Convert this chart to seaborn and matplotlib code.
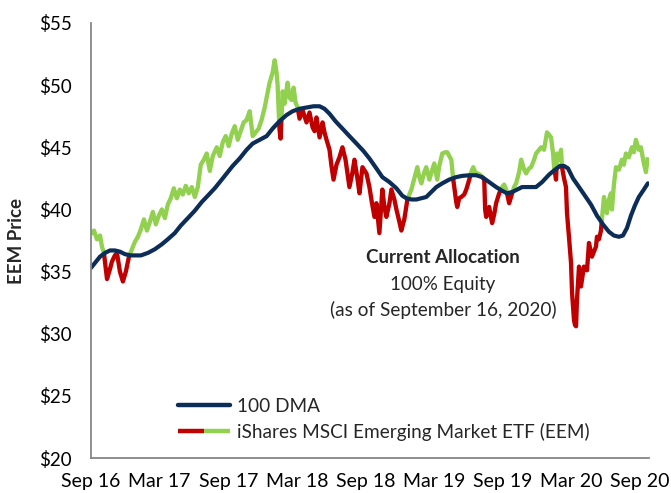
import numpy as np
import pandas as pd
import matplotlib
matplotlib.use("Agg")
import matplotlib.pyplot as plt
import seaborn as sns
from matplotlib.lines import Line2D
from matplotlib.legend_handler import HandlerTuple

sns.set_theme(style="white")
plt.rcParams['font.family'] = ['Lato', 'DejaVu Sans']

# months since Sep 2016
price_months = [0.00, 0.26, 0.52, 0.79, 0.96, 1.13, 1.40, 1.66, 1.83, 2.09, 2.27, 2.53, 2.79, 3.05, 3.32, 3.58,
                3.84, 4.10, 4.36, 4.63, 4.89, 5.15, 5.41, 5.67, 5.93, 6.20, 6.46, 6.72, 6.98, 7.24, 7.51, 7.77,
                8.03, 8.29, 8.55, 8.81, 9.08, 9.34, 9.60, 9.86, 10.12, 10.39, 10.65, 11.00, 11.26, 11.52, 11.78,
                12.04, 12.31, 12.57, 12.83, 13.09, 13.35, 13.61, 13.88, 14.14, 14.40, 14.66, 14.92, 15.19, 15.36,
                15.62, 15.88, 16.06, 16.23, 16.32, 16.41, 16.49, 16.58, 16.76, 16.93, 17.19, 17.37, 17.54, 17.72,
                17.89, 18.07, 18.24, 18.50, 18.85, 19.11, 19.38, 19.55, 19.72, 19.99, 20.25, 20.42, 20.60, 20.86,
                21.03, 21.21, 21.47, 21.73, 21.99, 22.26, 22.60, 22.87, 23.04, 23.30, 23.48, 23.74, 24.09, 24.35,
                24.52, 24.79, 24.96, 25.22, 25.48, 25.66, 25.83, 26.10, 26.27, 26.53, 26.71, 26.97, 27.14, 27.40,
                27.67, 27.84, 28.02, 28.28, 28.54, 28.71, 28.89, 29.15, 29.32, 29.59, 29.85, 30.02, 30.28, 30.46,
                30.72, 30.98, 31.16, 31.33, 31.51, 31.68, 31.77, 31.94, 32.03, 32.20, 32.38, 32.64, 32.82, 33.08,
                33.25, 33.43, 33.60, 33.78, 34.04, 34.21, 34.39, 34.47, 34.56, 34.82, 35.08, 35.26, 35.43, 35.70,
                35.96, 36.13, 36.31, 36.57, 36.83, 37.00, 37.18, 37.44, 37.62, 37.88, 38.05, 38.31, 38.49, 38.75,
                38.92, 39.19, 39.36, 39.62, 39.88, 40.06, 40.23, 40.41, 40.50, 40.67, 40.76, 40.93, 41.11, 41.19,
                41.37, 41.54, 41.63, 41.80, 41.98, 42.07, 42.24, 42.33, 42.42, 42.50, 42.68, 42.85, 43.11, 43.38,
                43.55, 43.81, 44.16, 44.25, 44.42, 44.60, 44.68, 44.86, 45.12, 45.30, 45.47, 45.56, 45.73, 45.91,
                46.17, 46.43, 46.60, 46.78, 47.04, 47.30, 47.48, 47.65, 47.91, 48.09, 48.35, 48.53, 48.70]
price_values = [38.0, 38.3, 37.6, 37.9, 37.0, 36.5, 34.4, 35.2, 35.8, 36.3, 36.5, 35.0, 34.2, 35.0, 36.2, 36.8,
                37.4, 37.8, 38.4, 39.2, 38.3, 39.0, 39.8, 38.8, 39.5, 40.0, 39.3, 40.4, 40.9, 41.7, 40.9, 41.6,
                41.2, 41.9, 41.3, 41.8, 41.0, 41.8, 43.6, 44.0, 44.5, 43.1, 44.3, 45.0, 44.3, 45.4, 45.9,
                45.1, 46.1, 46.7, 45.6, 46.3, 47.0, 47.2, 47.9, 45.9, 46.2, 46.5, 47.2, 48.2, 49.0,
                50.2, 51.0, 52.0, 51.0, 50.0, 48.0, 46.4, 45.7, 49.5, 48.5, 50.2, 49.0, 48.8, 49.8,
                48.6, 48.2, 47.3, 48.0, 47.0, 47.8, 46.6, 46.3, 47.4, 45.8, 47.0, 46.2, 45.6, 44.8,
                43.5, 42.4, 43.6, 44.2, 45.0, 44.0, 41.8, 43.0, 44.0, 42.5, 41.3, 43.4, 42.9, 41.8,
                40.8, 39.4, 40.5, 38.1, 41.6, 40.2, 39.4, 40.5, 41.6, 40.8, 40.0, 39.0, 38.3, 39.2,
                40.8, 41.2, 41.6, 42.5, 43.4, 42.6, 42.1, 43.0, 43.4, 42.4, 43.2, 43.7, 42.4, 43.5,
                44.5, 44.6, 44.6, 44.3, 44.0, 42.4, 41.8, 40.6, 40.2, 40.9, 41.0, 41.2, 41.6, 42.4,
                43.0, 43.4, 43.0, 42.9, 42.8, 42.6, 42.4, 40.0, 39.4, 40.2, 38.9, 39.6, 40.5, 41.3,
                41.8, 42.0, 41.6, 40.5, 41.3, 41.8, 42.1, 43.0, 44.0, 43.2, 42.9, 43.3, 43.4, 44.0,
                44.5, 44.8, 45.0, 44.8, 46.2, 46.0, 45.8, 44.5, 43.4, 42.4, 44.5, 44.0, 44.8, 43.4,
                42.5, 41.8, 39.7, 37.8, 35.7, 33.3, 31.1, 30.7, 30.6, 32.7, 35.4, 33.8, 35.4, 35.1,
                37.3, 36.2, 37.0, 37.8, 37.6, 38.3, 39.2, 41.0, 39.7, 40.8, 41.3, 40.0, 42.0, 43.4,
                43.2, 44.0, 43.6, 44.5, 44.2, 45.0, 44.6, 45.6, 44.8, 45.0, 43.7, 43.0, 44.2]

dma_months = [0.00, 0.44, 0.79, 1.22, 1.66, 2.09, 2.53, 2.97, 3.49, 4.36, 4.97, 5.59, 6.20, 6.72, 7.33, 7.85,
              8.47, 9.08, 9.69, 10.21, 10.82, 11.35, 11.87, 12.39, 13.00, 13.61, 14.14, 14.75, 15.36, 15.88,
              16.49, 17.11, 17.63, 18.24, 18.85, 19.46, 19.99, 20.42, 20.86, 21.38, 21.99, 22.60, 23.22, 23.83,
              24.35, 24.96, 25.48, 26.10, 26.71, 27.23, 27.58, 28.02, 28.45, 28.89, 29.32, 29.76, 30.20, 30.72,
              31.33, 31.94, 32.47, 33.08, 33.69, 34.21, 34.82, 35.43, 35.96, 36.39, 36.83, 37.27, 37.70, 38.31,
              38.92, 39.45, 40.06, 40.58, 41.02, 41.37, 41.72, 42.15, 42.68, 43.20, 43.72, 44.25, 44.77, 45.30,
              45.73, 46.17, 46.52, 46.87, 47.22, 47.56, 47.91, 48.35, 48.70]
dma_values = [35.3, 35.8, 36.2, 36.5, 36.7, 36.7, 36.6, 36.4, 36.3, 36.3, 36.5, 36.8, 37.2, 37.6, 38.1, 38.7,
              39.3, 39.9, 40.6, 41.1, 41.7, 42.3, 42.9, 43.5, 44.1, 44.8, 45.3, 45.6, 45.9, 46.5,
              47.1, 47.6, 47.9, 48.1, 48.2, 48.3, 48.3, 48.1, 47.7, 47.1, 46.5, 45.9, 45.3, 44.7,
              44.1, 43.3, 42.6, 42.2, 41.7, 41.1, 40.9, 40.8, 40.8, 40.9, 41.0, 41.4, 41.8, 42.1,
              42.4, 42.6, 42.7, 42.75, 42.75, 42.6, 42.2, 41.8, 41.5, 41.3, 41.4, 41.6, 41.8, 41.8,
              41.8, 42.2, 42.8, 43.2, 43.5, 43.5, 43.3, 42.5, 41.8, 41.1, 40.4, 39.5, 38.8, 38.2,
              37.9, 37.8, 37.9, 38.5, 39.5, 40.3, 41.0, 41.6, 42.1]

tick_months = [0, 6, 12, 18, 24, 30, 36, 42, 48]
tick_labels = ["Sep 16", "Mar 17", "Sep 17", "Mar 18", "Sep 18", "Mar 19", "Sep 19", "Mar 20", "Sep 20"]
y_ticks = [20, 25, 30, 35, 40, 45, 50, 55]

GREEN = "#92D050"
RED = "#C00000"
NAVY = "#0C2D57"
AXIS = "#868686"

# split price series into above / below DMA runs
pm = np.array(price_months)
pv = np.array(price_values)
diff = pv - np.interp(pm, dma_months, dma_values)
rows = []
run = 0
state = diff[0] >= 0
cur = [(pm[0], pv[0])]
for i in range(len(pm) - 1):
    nxt = diff[i + 1] >= 0
    if nxt != state:
        t = diff[i] / (diff[i] - diff[i + 1])
        xc = pm[i] + t * (pm[i + 1] - pm[i])
        yc = pv[i] + t * (pv[i + 1] - pv[i])
        cur.append((xc, yc))
        rows += [(x, y, run, "above" if state else "below") for x, y in cur]
        run += 1
        state = nxt
        cur = [(xc, yc)]
    cur.append((pm[i + 1], pv[i + 1]))
rows += [(x, y, run, "above" if state else "below") for x, y in cur]
df = pd.DataFrame(rows, columns=["month", "price", "run", "state"])
dma_df = pd.DataFrame({"month": dma_months, "dma": dma_values})

fig = plt.figure(figsize=(6.71, 4.93), dpi=100)
ax = fig.add_axes([91 / 671, 1 - 458 / 493, (649 - 91) / 671, (458 - 23) / 493])

sns.lineplot(data=df, x="month", y="price", hue="state", units="run", estimator=None,
             palette={"above": GREEN, "below": RED}, lw=3.1, sort=False, legend=False, ax=ax,
             solid_capstyle="butt")
sns.lineplot(data=dma_df, x="month", y="dma", color=NAVY, lw=3.0, legend=False, ax=ax)

ax.set_xlim(0, 48.8)
ax.set_ylim(20, 55)
ax.set_xticks(tick_months)
ax.set_xticklabels(tick_labels)
ax.set_yticks(y_ticks)
ax.set_yticklabels([f"${v}" for v in y_ticks])
ax.set_xlabel("")
ax.set_ylabel("EEM Price", fontsize=13.5, fontweight="bold", labelpad=10)
for s in ["top", "right"]:
    ax.spines[s].set_visible(False)
for s in ["left", "bottom"]:
    ax.spines[s].set_color(AXIS)
    ax.spines[s].set_linewidth(1.3)
ax.tick_params(axis="both", which="major", direction="out", length=5, width=1.1, color=AXIS,
               labelcolor="black")
ax.tick_params(axis="x", pad=6, labelsize=14)
ax.tick_params(axis="y", pad=9, labelsize=13.5)
ax.grid(False)

ax.text(0.631, 0.46, "Current Allocation", transform=ax.transAxes, ha="center", va="center",
        fontsize=13.5, fontweight="bold")
ax.text(0.631, 0.398, "100% Equity", transform=ax.transAxes, ha="center", va="center", fontsize=13.5)
ax.text(0.631, 0.340, "(as of September 16, 2020)", transform=ax.transAxes, ha="center", va="center",
        fontsize=13.7)

h1 = Line2D([], [], color=NAVY, lw=3.2)
h_red = Line2D([], [], color=RED, lw=3.2, solid_capstyle="butt")
h_green = Line2D([], [], color=GREEN, lw=3.2, solid_capstyle="butt")
ax.legend([h1, (h_red, h_green)], ["100 DMA", "iShares MSCI Emerging Market ETF (EEM)"],
          handler_map={tuple: HandlerTuple(ndivide=None, pad=0)},
          loc="lower left", bbox_to_anchor=(0.156, 0.04), frameon=False, fontsize=13.7,
          handlelength=2.75, handletextpad=0.35, labelspacing=0.4, borderpad=0, borderaxespad=0)

fig.savefig("out.png", dpi=100)
